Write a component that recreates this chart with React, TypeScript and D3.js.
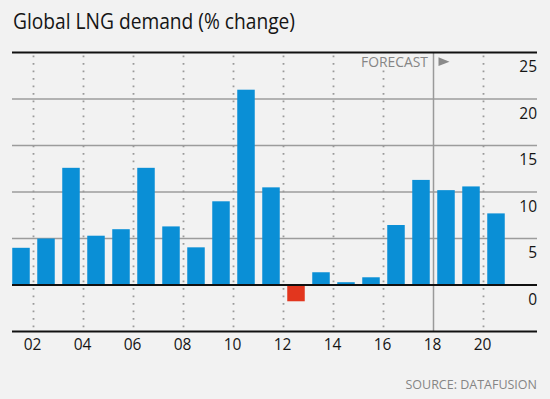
import React from "react";
import * as d3 from "d3";

const years = [2001, 2002, 2003, 2004, 2005, 2006, 2007, 2008, 2009, 2010, 2011, 2012, 2013, 2014, 2015, 2016, 2017, 2018, 2019, 2020];
const values = [4.0, 5.0, 12.6, 5.3, 6.0, 12.6, 6.3, 4.05, 9.0, 21.0, 10.5, -1.75, 1.37, 0.3, 0.83, 6.45, 11.3, 10.2, 10.6, 7.7];
const xTickYears = [2002, 2004, 2006, 2008, 2010, 2012, 2014, 2016, 2018, 2020];
const xTickLabels = ["02", "04", "06", "08", "10", "12", "14", "16", "18", "20"];
const yTicks = [25, 20, 15, 10, 5, 0];
const forecastYear = 2018;
const title = "Global LNG demand (% change)";
const source = "SOURCE: DATAFUSION";

const W = 550;
const H = 399;
const FONT = "'Open Sans', 'Noto Sans', sans-serif";

export default function App() {
  const left = 12;
  const right = 537;
  const yScale = d3.scaleLinear().domain([-5, 25]).range([331.5, 52.5]);
  const xBand = d3
    .scaleBand<number>()
    .domain(years)
    .range([8.5, 508.5])
    .paddingInner(0.3)
    .paddingOuter(0.15);
  const xYear = d3.scaleLinear().domain([2001, 2021]).range([8.5, 508.5]);

  const gridVals = [5, 10, 15, 20];
  const yTop = yScale(25);
  const yBot = yScale(-5);
  const y0 = yScale(0);
  const fx = xYear(forecastYear);

  return (
    <svg
      width={W}
      height={H}
      style={{ position: "absolute", left: 0, top: 0, background: "#f2f2f2" }}
      fontFamily={FONT}
    >
      <rect x={0} y={0} width={W} height={H} fill="#f2f2f2" />
      <text
        x={13}
        y={28.5}
        fontSize={22}
        fill="#151515"
        fontWeight={500}
        textLength={282}
        lengthAdjust="spacingAndGlyphs"
      >
        {title}
      </text>

      {/* horizontal gridlines */}
      {gridVals.map((v) => (
        <line key={v} x1={left} x2={right} y1={yScale(v)} y2={yScale(v)} stroke="#9c9c9c" strokeWidth={1.5} />
      ))}

      {/* dotted vertical lines */}
      {xTickYears
        .filter((yr) => yr !== forecastYear)
        .map((yr) => (
          <line
            key={yr}
            x1={xYear(yr)}
            x2={xYear(yr)}
            y1={yTop + 3}
            y2={yBot}
            stroke="#9a9a9a"
            strokeWidth={1.8}
            strokeDasharray="1.8,5.7"
          />
        ))}

      {/* forecast line */}
      <line x1={fx} x2={fx} y1={yTop} y2={yBot} stroke="#9a9a9a" strokeWidth={1.5} />
      <rect x={358} y={54} width={fx - 361} height={15} fill="#f2f2f2" />
      <text
        x={fx - 5.5}
        y={66.7}
        fontSize={14}
        fontWeight={500}
        fill="#858585"
        textAnchor="end"
        textLength={67}
        lengthAdjust="spacingAndGlyphs"
      >
        FORECAST
      </text>
      <path d={`M${fx + 5},57.3L${fx + 16},61.7L${fx + 5},66Z`} fill="#8a8a8a" />

      {/* bars */}
      {years.map((yr, i) => {
        const v = values[i];
        const x = xBand(yr) as number;
        const yy = v >= 0 ? yScale(v) : y0;
        const h = Math.abs(yScale(v) - y0);
        return <rect key={yr} x={x} y={yy} width={xBand.bandwidth()} height={h} fill={v >= 0 ? "#0a8fd6" : "#e2361e"} />;
      })}

      {/* axis lines */}
      <line x1={left} x2={right} y1={yTop} y2={yTop} stroke="#111" strokeWidth={2} />
      <line x1={left} x2={right} y1={y0} y2={y0} stroke="#111" strokeWidth={2} />
      <line x1={left} x2={right} y1={yBot} y2={yBot} stroke="#111" strokeWidth={2} />

      {/* y labels */}
      {yTicks.map((t) => (
        <text key={t} x={right} y={yScale(t) + 19.5} fontSize={15.5} fill="#151515" textAnchor="end">
          {t}
        </text>
      ))}

      {/* x labels */}
      {xTickYears.map((yr, i) => (
        <text key={yr} x={xYear(yr) - 1} y={350} fontSize={15.5} fill="#151515" textAnchor="middle">
          {xTickLabels[i]}
        </text>
      ))}

      <text x={right} y={389} fontSize={12.5} fill="#858585" textAnchor="end">
        {source}
      </text>
    </svg>
  );
}
